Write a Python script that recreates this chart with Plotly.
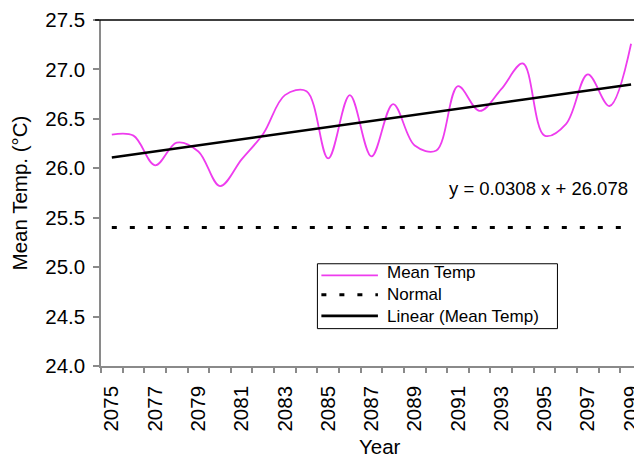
import plotly.graph_objects as go

# ---- data ----
years = list(range(2075, 2100))
mean_temp = [26.34, 26.33, 26.03, 26.26, 26.17, 25.82, 26.09, 26.35, 26.74, 26.78,
             26.10, 26.74, 26.12, 26.65, 26.23, 26.18, 26.83, 26.58, 26.80, 27.06,
             26.33, 26.45, 26.95, 26.63, 27.26]
normal_value = 25.4
normal = [normal_value] * len(years)
trend_years = [2075, 2099]
trend_values = [26.109, 26.848]
slope_txt = "0.0308"
intercept_txt = "26.078"
label_years = list(range(2075, 2100, 2))
label_text = [str(y) for y in label_years]
y_ticks = [24.0, 24.5, 25.0, 25.5, 26.0, 26.5, 27.0, 27.5]
series_names = ["Mean Temp", "Normal", "Linear (Mean Temp)"]

FONT = "Liberation Sans, Arial, Helvetica, sans-serif"
GRAY = "#8a8a8a"
MAGENTA = "#ee3cee"
DASH = "5px,13px"

fig = go.Figure()
fig.add_trace(go.Scatter(x=years, y=mean_temp, mode="lines", name=series_names[0],
                         line=dict(color=MAGENTA, width=1.8, shape="spline", smoothing=1.0)))
fig.add_trace(go.Scatter(x=years, y=normal, mode="lines", name=series_names[1],
                         line=dict(color="black", width=3, dash=DASH)))
fig.add_trace(go.Scatter(x=trend_years, y=trend_values, mode="lines", name=series_names[2],
                         line=dict(color="black", width=2.6)))

fig.add_annotation(x=2094.7, y=25.80, xref="x", yref="y",
                   text=f"y = {slope_txt} x + {intercept_txt}", showarrow=False,
                   font=dict(family=FONT, size=18.5, color="black"))

# top border line at the upper limit
fig.add_shape(type="line", xref="paper", yref="paper", x0=-0.011, x1=1, y0=1, y1=1,
              line=dict(color="black", width=1.5), layer="above")

# x-axis title (placed slightly right of plot centre as in the reference)
fig.add_annotation(x=0.52, y=-0.233, xref="paper", yref="paper", text="Year", showarrow=False,
                   xanchor="center", yanchor="middle",
                   font=dict(family=FONT, size=20.5, color="black"))

# legend box drawn in paper coordinates
lx0, lx1, ly0, ly1 = 0.403, 0.850, 0.108, 0.2955
fig.add_shape(type="rect", xref="paper", yref="paper", x0=lx0, x1=lx1, y0=ly0, y1=ly1,
              line=dict(color="black", width=1), fillcolor="white", layer="above")
row_y = [0.2620, 0.2060, 0.1450]
sample_styles = [dict(color=MAGENTA, width=1.8),
                 dict(color="black", width=3, dash=DASH),
                 dict(color="black", width=2.6)]
for ry, st in zip(row_y, sample_styles):
    fig.add_shape(type="line", xref="paper", yref="paper", x0=0.4104, x1=0.5157, y0=ry, y1=ry,
                  line=st, layer="above")
fig.add_annotation(x=0.528, y=row_y[1], xref="paper", yref="paper",
                   text="<br>".join(series_names), showarrow=False, align="left",
                   xanchor="left", yanchor="middle",
                   font=dict(family=FONT, size=17, color="black"))

fig.update_layout(
    width=634, height=452,
    margin=dict(l=93, r=0, t=6, b=94, pad=0),
    paper_bgcolor="white", plot_bgcolor="white",
    font=dict(family=FONT, size=20.5, color="black"),
    showlegend=False,
    xaxis=dict(range=[2074.5, 2099.32], tickmode="array", tickvals=label_years, ticktext=label_text,
               tickangle=-90, ticks="", ticklabelstandoff=10, ticklabeloverflow="allow",
               showgrid=False, zeroline=False,
               showline=True, linecolor=GRAY, linewidth=1.5,
               minor=dict(tickmode="linear", tick0=2074.5, dtick=1, ticks="outside", ticklen=5,
                          tickcolor=GRAY, tickwidth=1.5, showgrid=False),
               tickfont=dict(size=20.5)),
    yaxis=dict(range=[24.0, 27.5], tickmode="array", tickvals=y_ticks,
               ticktext=[f"{v:.1f}" for v in y_ticks],
               ticks="outside", ticklen=6, tickcolor=GRAY, tickwidth=1.5, ticklabelstandoff=4,
               ticklabeloverflow="allow",
               showgrid=False, zeroline=False, showline=True, linecolor=GRAY, linewidth=1.5,
               title=dict(text="Mean Temp. (°C)", standoff=12, font=dict(size=20.5)),
               tickfont=dict(size=20.5)),
)

fig.write_html("out.html")
